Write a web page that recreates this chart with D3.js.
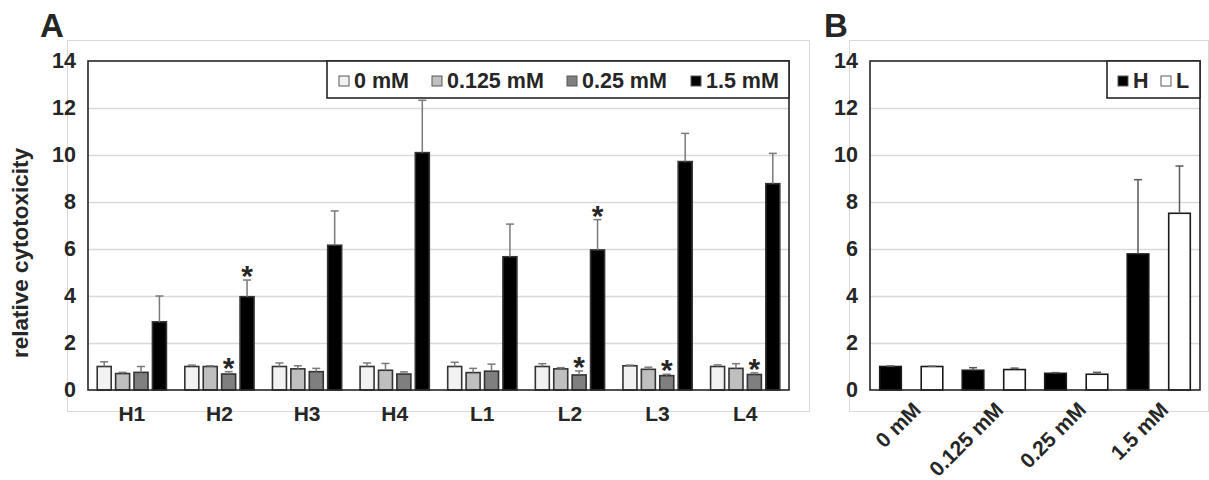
<!DOCTYPE html>
<html>
<head>
<meta charset="utf-8">
<script src="https://cdn.jsdelivr.net/npm/d3@7"></script>
<style>
  html, body { margin: 0; padding: 0; background: #fff; }
  svg { display: block; }
  text { font-family: "Liberation Sans", Arial, sans-serif; font-weight: bold; fill: #262626; }
</style>
</head>
<body>
<svg id="fig" width="1209" height="480"></svg>
<script>
// ---- Panel A: cell lines x concentration ----
const categoriesA = ["H1", "H2", "H3", "H4", "L1", "L2", "L3", "L4"];
const seriesA = ["0 mM", "0.125 mM", "0.25 mM", "1.5 mM"];
const mean0mM   = [1.00, 1.00, 1.00, 1.00, 1.00, 1.00, 1.03, 1.00];
const sd0mM     = [0.20, 0.06, 0.15, 0.15, 0.18, 0.12, 0.03, 0.07];
const mean0125  = [0.70, 1.00, 0.90, 0.84, 0.74, 0.90, 0.88, 0.92];
const sd0125    = [0.05, 0.03, 0.13, 0.29, 0.18, 0.05, 0.09, 0.20];
const mean025   = [0.75, 0.68, 0.78, 0.68, 0.80, 0.64, 0.61, 0.66];
const sd025     = [0.25, 0.10, 0.14, 0.09, 0.30, 0.17, 0.06, 0.07];
const mean15    = [2.90, 3.97, 6.16, 10.10, 5.67, 5.96, 9.72, 8.78];
const sd15      = [1.10, 0.71, 1.46, 2.23, 1.39, 1.29, 1.20, 1.29];
// significance marks: category / series pairs
const starCatsA   = ["H2", "H2", "L2", "L2", "L3", "L4"];
const starSeriesA = ["0.25 mM", "1.5 mM", "0.25 mM", "1.5 mM", "0.25 mM", "0.25 mM"];

// ---- Panel B: pooled H / L groups by concentration ----
const categoriesB = ["0 mM", "0.125 mM", "0.25 mM", "1.5 mM"];
const seriesB = ["H", "L"];
const meanH = [1.00, 0.84, 0.71, 5.79];
const sdH   = [0.02, 0.11, 0.03, 3.16];
const meanL = [1.00, 0.87, 0.67, 7.52];
const sdL   = [0.01, 0.06, 0.08, 2.01];

const yTicks = [0, 2, 4, 6, 8, 10, 12, 14];
const yTitle = "relative cytotoxicity";

const fillsA = ["#f2f2f2", "#bfbfbf", "#7f7f7f", "#000000"];
const fillsB = ["#000000", "#ffffff"];

const svg = d3.select("#fig");

// long-form rows built from the arrays above
const rowsA = [];
[[mean0mM, sd0mM], [mean0125, sd0125], [mean025, sd025], [mean15, sd15]].forEach(([m, s], si) => {
  categoriesA.forEach((c, ci) => rowsA.push({ cat: c, series: seriesA[si], mean: m[ci], sd: s[ci] }));
});
const rowsB = [];
[[meanH, sdH], [meanL, sdL]].forEach(([m, s], si) => {
  categoriesB.forEach((c, ci) => rowsB.push({ cat: c, series: seriesB[si], mean: m[ci], sd: s[ci] }));
});

function drawPanel(opt) {
  const g = svg.append("g");
  const { left, right, top, bottom } = opt.plot;

  // outer chart-area frame
  g.append("rect")
    .attr("x", opt.frame[0] + 0.5).attr("y", opt.frame[1] + 0.5)
    .attr("width", opt.frame[2] - opt.frame[0]).attr("height", opt.frame[3] - opt.frame[1])
    .attr("fill", "none").attr("stroke", "#d9d9d9").attr("stroke-width", 1);

  const y = d3.scaleLinear().domain([0, 14]).range([bottom, top]);
  const x0 = d3.scaleBand().domain(opt.categories).range([left, right]).padding(0);
  const x1 = d3.scaleBand().domain(opt.series).range([0, x0.bandwidth()])
    .paddingInner(opt.padInner).paddingOuter(opt.padOuter);
  const color = d3.scaleOrdinal().domain(opt.series).range(opt.fills);

  // gridlines
  g.append("g")
    .attr("transform", `translate(${left},0)`)
    .call(d3.axisLeft(y).tickValues(yTicks.filter(v => v > 0 && v < 14)).tickSize(-(right - left)).tickFormat(""))
    .call(a => a.select(".domain").remove())
    .call(a => a.selectAll("line").attr("stroke", "#d9d9d9").attr("stroke-width", 1.5));

  // y tick labels
  g.append("g")
    .attr("transform", `translate(${opt.tickRight},0)`)
    .call(d3.axisLeft(y).tickValues(yTicks).tickSize(0).tickPadding(0))
    .call(a => a.select(".domain").remove())
    .call(a => a.selectAll("text")
      .attr("font-size", 21.5).attr("font-family", "Liberation Sans, Arial, sans-serif")
      .attr("font-weight", "bold").attr("fill", "#262626"));

  // bars
  const bars = g.append("g");
  bars.selectAll("rect")
    .data(opt.rows)
    .join("rect")
    .attr("x", d => x0(d.cat) + x1(d.series))
    .attr("y", d => y(d.mean))
    .attr("width", x1.bandwidth())
    .attr("height", d => y(0) - y(d.mean))
    .attr("fill", d => color(d.series))
    .attr("stroke", opt.barStroke)
    .attr("stroke-width", 1.6);

  // upper error bars
  const eb = g.append("g").attr("stroke", opt.errColor).attr("stroke-width", 1.5).attr("fill", "none");
  opt.rows.forEach(d => {
    const cx = x0(d.cat) + x1(d.series) + x1.bandwidth() / 2;
    const yt = y(d.mean + d.sd);
    eb.append("line").attr("x1", cx).attr("x2", cx).attr("y1", y(d.mean)).attr("y2", yt);
    eb.append("line").attr("x1", cx - 4).attr("x2", cx + 4).attr("y1", yt).attr("y2", yt);
  });

  // plot-area border
  g.append("rect")
    .attr("x", left).attr("y", top)
    .attr("width", right - left).attr("height", bottom - top)
    .attr("fill", "none").attr("stroke", "#262626").attr("stroke-width", 1.6);

  // significance stars
  if (opt.starCats) {
    opt.starCats.forEach((c, i) => {
      const d = opt.rows.find(r => r.cat === c && r.series === opt.starSeries[i]);
      const cx = x0(d.cat) + x1(d.series) + x1.bandwidth() / 2;
      g.append("text")
        .attr("x", cx).attr("y", y(d.mean + d.sd) + 6)
        .attr("text-anchor", "middle").attr("font-size", 30)
        .text("*");
    });
  }

  // category labels
  const xl = g.append("g");
  opt.categories.forEach(c => {
    const cx = x0(c) + x0.bandwidth() / 2;
    if (opt.rotateLabels) {
      xl.append("text")
        .attr("transform", `translate(${cx + 11},${bottom + 21}) rotate(-45)`)
        .attr("text-anchor", "end").attr("font-size", 21)
        .text(c);
    } else {
      xl.append("text")
        .attr("x", cx).attr("y", bottom + 31)
        .attr("text-anchor", "middle").attr("font-size", 21)
        .text(c);
    }
  });

  // legend
  const lg = g.append("g");
  lg.append("rect")
    .attr("x", opt.legend.x).attr("y", top)
    .attr("width", right - opt.legend.x).attr("height", opt.legend.h)
    .attr("fill", "#fff").attr("stroke", "#262626").attr("stroke-width", 1.6);
  opt.series.forEach((s, i) => {
    const lx = opt.legend.items[i];
    lg.append("rect")
      .attr("x", lx).attr("y", top + 15).attr("width", 10).attr("height", 10)
      .attr("fill", color(s)).attr("stroke", "#595959").attr("stroke-width", 1);
    lg.append("text")
      .attr("x", lx + 15).attr("y", top + 27)
      .attr("font-size", 21.5)
      .text(s);
  });

  // panel letter
  g.append("text")
    .attr("x", opt.letter[0]).attr("y", opt.letter[1])
    .attr("font-size", 33)
    .text(opt.letter[2]);

  return g;
}

drawPanel({
  plot: { left: 88, right: 789, top: 61, bottom: 390 },
  frame: [67, 40, 809, 411],
  tickRight: 76,
  categories: categoriesA, series: seriesA, rows: rowsA, fills: fillsA,
  padInner: 0.24, padOuter: 0.5,
  barStroke: "#333333", errColor: "#7a7a7a",
  starCats: starCatsA, starSeries: starSeriesA,
  legend: { x: 327, h: 37, items: [339, 432, 567, 691] },
  letter: [40, 37, "A"],
  rotateLabels: false
});

drawPanel({
  plot: { left: 870, right: 1200, top: 61, bottom: 390 },
  frame: [849, 40, 1208, 411],
  tickRight: 858,
  categories: categoriesB, series: seriesB, rows: rowsB, fills: fillsB,
  padInner: 0.48, padOuter: 0.234,
  barStroke: "#1a1a1a", errColor: "#595959",
  legend: { x: 1107, h: 37, items: [1118, 1161] },
  letter: [824, 37, "B"],
  rotateLabels: true
});

// y-axis title for panel A
svg.append("text")
  .attr("transform", "translate(28,253) rotate(-90)")
  .attr("text-anchor", "middle")
  .attr("font-size", 22.5)
  .text(yTitle);
</script>
</body>
</html>
